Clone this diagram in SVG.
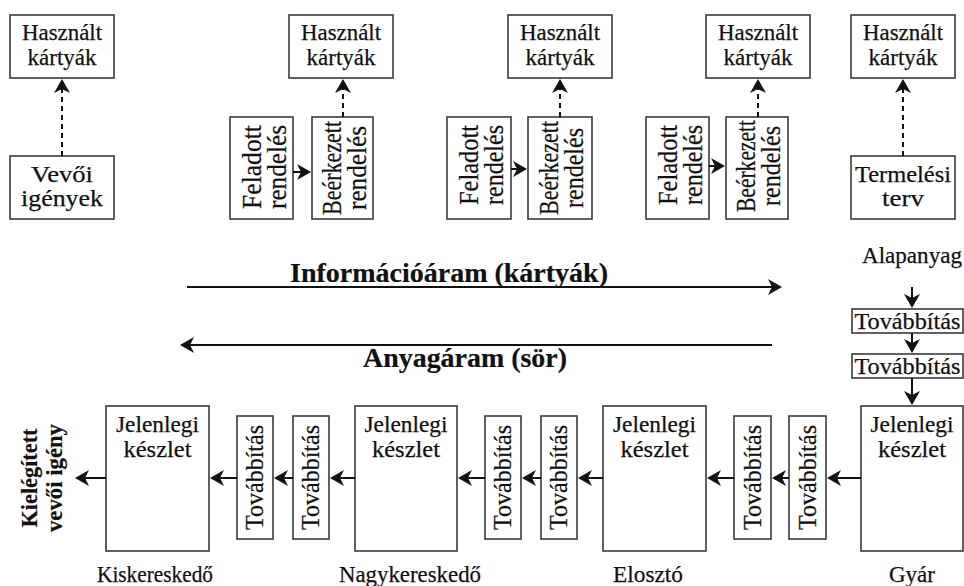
<svg xmlns="http://www.w3.org/2000/svg" width="964" height="586" viewBox="0 0 964 586">
<style>
.box{fill:#fff;stroke:#3a3a3a;stroke-width:1.6}
.t{font-family:"Liberation Serif","DejaVu Serif","Times New Roman",serif;font-size:23px;fill:#111;text-anchor:middle;stroke:#111;stroke-width:0.25}
.r{font-size:27px}
.rt{font-size:25px}
.b{font-weight:bold;stroke-width:0.2}
.c{stroke:#111;stroke-width:2;fill:none}
.d{stroke-dasharray:5 4}
</style>
<defs>
<marker id="ah" viewBox="0 0 14 16" refX="9" refY="8" markerWidth="14" markerHeight="16" markerUnits="userSpaceOnUse" orient="auto">
<path d="M0,0 L14,8 L0,16 L4,8 Z" fill="#111"/>
</marker>
</defs>
<rect width="964" height="586" fill="#fff"/>

<!-- top row -->
<g id="hasznalt1"><rect class="box" x="10" y="15" width="104" height="63"/><text class="t" x="62" y="40" textLength="80" lengthAdjust="spacingAndGlyphs">Használt</text><text class="t" x="62" y="65" textLength="69" lengthAdjust="spacingAndGlyphs">kártyák</text></g>
<g id="hasznalt2"><rect class="box" x="289" y="15" width="104" height="63"/><text class="t" x="341" y="40" textLength="80" lengthAdjust="spacingAndGlyphs">Használt</text><text class="t" x="341" y="65" textLength="69" lengthAdjust="spacingAndGlyphs">kártyák</text></g>
<g id="hasznalt3"><rect class="box" x="508" y="15" width="104" height="63"/><text class="t" x="560" y="40" textLength="80" lengthAdjust="spacingAndGlyphs">Használt</text><text class="t" x="560" y="65" textLength="69" lengthAdjust="spacingAndGlyphs">kártyák</text></g>
<g id="hasznalt4"><rect class="box" x="706" y="15" width="104" height="63"/><text class="t" x="758" y="40" textLength="80" lengthAdjust="spacingAndGlyphs">Használt</text><text class="t" x="758" y="65" textLength="69" lengthAdjust="spacingAndGlyphs">kártyák</text></g>
<g id="hasznalt5"><rect class="box" x="851" y="15" width="104" height="63"/><text class="t" x="903" y="40" textLength="80" lengthAdjust="spacingAndGlyphs">Használt</text><text class="t" x="903" y="65" textLength="69" lengthAdjust="spacingAndGlyphs">kártyák</text></g>

<g id="vevoi"><rect class="box" x="10" y="156" width="104" height="63"/><text class="t" x="62" y="182" textLength="62" lengthAdjust="spacingAndGlyphs">Vevői</text><text class="t" x="62" y="206" textLength="82" lengthAdjust="spacingAndGlyphs">igények</text></g>
<g id="termelesi"><rect class="box" x="851" y="156" width="104" height="63"/><text class="t" x="903" y="182" textLength="96" lengthAdjust="spacingAndGlyphs">Termelési</text><text class="t" x="903" y="206" textLength="42" lengthAdjust="spacingAndGlyphs">terv</text></g>

<g id="feladott1"><rect class="box" x="230" y="117" width="63" height="102"/><g transform="translate(261.5,167) rotate(-90)"><text class="t r" x="0" y="-1" textLength="84" lengthAdjust="spacingAndGlyphs">Feladott</text><text class="t r" x="0" y="24" textLength="84" lengthAdjust="spacingAndGlyphs">rendelés</text></g></g>
<g id="beerkezett1"><rect class="box" x="312" y="117" width="61" height="102"/><g transform="translate(342.5,168) rotate(-90)"><text class="t r" x="0" y="-2" textLength="94" lengthAdjust="spacingAndGlyphs">Beérkezett</text><text class="t r" x="0" y="23" textLength="84" lengthAdjust="spacingAndGlyphs">rendelés</text></g></g>
<g id="feladott2"><rect class="box" x="447" y="117" width="64" height="102"/><g transform="translate(479,165) rotate(-90)"><text class="t r" x="0" y="-1" textLength="80" lengthAdjust="spacingAndGlyphs">Feladott</text><text class="t r" x="0" y="24" textLength="80" lengthAdjust="spacingAndGlyphs">rendelés</text></g></g>
<g id="beerkezett2"><rect class="box" x="528" y="117" width="64" height="102"/><g transform="translate(560,168) rotate(-90)"><text class="t r" x="0" y="-2" textLength="94" lengthAdjust="spacingAndGlyphs">Beérkezett</text><text class="t r" x="0" y="23" textLength="80" lengthAdjust="spacingAndGlyphs">rendelés</text></g></g>
<g id="feladott3"><rect class="box" x="646" y="117" width="63" height="102"/><g transform="translate(677.5,165) rotate(-90)"><text class="t r" x="0" y="-1" textLength="80" lengthAdjust="spacingAndGlyphs">Feladott</text><text class="t r" x="0" y="24" textLength="80" lengthAdjust="spacingAndGlyphs">rendelés</text></g></g>
<g id="beerkezett3"><rect class="box" x="726" y="117" width="62" height="102"/><g transform="translate(757,166) rotate(-90)"><text class="t r" x="0" y="-2" textLength="92" lengthAdjust="spacingAndGlyphs">Beérkezett</text><text class="t r" x="0" y="23" textLength="80" lengthAdjust="spacingAndGlyphs">rendelés</text></g></g>

<!-- flow labels -->
<g id="info-label"><text class="t b" x="449" y="282" style="font-size:27px" textLength="318" lengthAdjust="spacingAndGlyphs">Információáram (kártyák)</text></g>
<g id="anyag-label"><text class="t b" x="465" y="367" style="font-size:27px" textLength="204" lengthAdjust="spacingAndGlyphs">Anyagáram (sör)</text></g>

<!-- right column -->
<g id="alapanyag"><text class="t" x="912" y="263" textLength="100" lengthAdjust="spacingAndGlyphs">Alapanyag</text></g>
<g id="tov-v1"><rect class="box" x="852" y="309" width="111" height="24"/><text class="t" x="907.5" y="329" textLength="106" lengthAdjust="spacingAndGlyphs">Továbbítás</text></g>
<g id="tov-v2"><rect class="box" x="852" y="354" width="111" height="24"/><text class="t" x="907.5" y="374" textLength="106" lengthAdjust="spacingAndGlyphs">Továbbítás</text></g>

<!-- bottom row -->
<g id="kisker"><rect class="box" x="106" y="406" width="103" height="145"/><text class="t" x="157.5" y="432" textLength="83" lengthAdjust="spacingAndGlyphs">Jelenlegi</text><text class="t" x="157.5" y="457" textLength="68" lengthAdjust="spacingAndGlyphs">készlet</text><text class="t" x="155" y="582" textLength="116" lengthAdjust="spacingAndGlyphs">Kiskereskedő</text></g>
<g id="nagyker"><rect class="box" x="355" y="406" width="102" height="145"/><text class="t" x="406" y="432" textLength="83" lengthAdjust="spacingAndGlyphs">Jelenlegi</text><text class="t" x="406" y="457" textLength="68" lengthAdjust="spacingAndGlyphs">készlet</text><text class="t" x="410" y="582" textLength="142" lengthAdjust="spacingAndGlyphs">Nagykereskedő</text></g>
<g id="eloszto"><rect class="box" x="603" y="406" width="103" height="145"/><text class="t" x="654.5" y="432" textLength="83" lengthAdjust="spacingAndGlyphs">Jelenlegi</text><text class="t" x="654.5" y="457" textLength="68" lengthAdjust="spacingAndGlyphs">készlet</text><text class="t" x="648" y="582" textLength="70" lengthAdjust="spacingAndGlyphs">Elosztó</text></g>
<g id="gyar"><rect class="box" x="861" y="406" width="102" height="145"/><text class="t" x="912" y="432" textLength="83" lengthAdjust="spacingAndGlyphs">Jelenlegi</text><text class="t" x="912" y="457" textLength="68" lengthAdjust="spacingAndGlyphs">készlet</text><text class="t" x="912" y="582" textLength="46" lengthAdjust="spacingAndGlyphs">Gyár</text></g>

<g id="tov1"><rect class="box" x="237" y="416" width="36" height="123"/><text class="t rt" transform="translate(255,477.5) rotate(-90)" x="0" y="8" textLength="105" lengthAdjust="spacingAndGlyphs">Továbbítás</text></g>
<g id="tov2"><rect class="box" x="293" y="416" width="36" height="123"/><text class="t rt" transform="translate(311,477.5) rotate(-90)" x="0" y="8" textLength="105" lengthAdjust="spacingAndGlyphs">Továbbítás</text></g>
<g id="tov3"><rect class="box" x="485" y="416" width="36" height="123"/><text class="t rt" transform="translate(503,477.5) rotate(-90)" x="0" y="8" textLength="105" lengthAdjust="spacingAndGlyphs">Továbbítás</text></g>
<g id="tov4"><rect class="box" x="541" y="416" width="36" height="123"/><text class="t rt" transform="translate(559,477.5) rotate(-90)" x="0" y="8" textLength="105" lengthAdjust="spacingAndGlyphs">Továbbítás</text></g>
<g id="tov5"><rect class="box" x="734" y="416" width="37" height="123"/><text class="t rt" transform="translate(752.5,477.5) rotate(-90)" x="0" y="8" textLength="105" lengthAdjust="spacingAndGlyphs">Továbbítás</text></g>
<g id="tov6"><rect class="box" x="789" y="416" width="37" height="123"/><text class="t rt" transform="translate(807.5,477.5) rotate(-90)" x="0" y="8" textLength="105" lengthAdjust="spacingAndGlyphs">Továbbítás</text></g>

<g id="kielegitett"><g transform="translate(45,478) rotate(-90)"><text class="t b" x="0" y="-8" textLength="99" lengthAdjust="spacingAndGlyphs">Kielégített</text><text class="t b" x="0" y="17" textLength="108" lengthAdjust="spacingAndGlyphs">vevői igény</text></g></g>

<!-- connectors -->
<g id="connectors">
<line class="c d" x1="62" y1="156" x2="62" y2="84" marker-end="url(#ah)"/>
<line class="c d" x1="343" y1="117" x2="343" y2="84" marker-end="url(#ah)"/>
<line class="c d" x1="560" y1="117" x2="560" y2="84" marker-end="url(#ah)"/>
<line class="c d" x1="758" y1="117" x2="758" y2="84" marker-end="url(#ah)"/>
<line class="c d" x1="903" y1="156" x2="903" y2="84" marker-end="url(#ah)"/>

<line class="c" x1="293" y1="172" x2="306" y2="172" marker-end="url(#ah)"/>
<line class="c" x1="511" y1="169" x2="522" y2="169" marker-end="url(#ah)"/>
<line class="c" x1="709" y1="166" x2="720" y2="166" marker-end="url(#ah)"/>

<line class="c" x1="187" y1="287" x2="777" y2="287" marker-end="url(#ah)"/>
<line class="c" x1="772" y1="345" x2="185" y2="345" marker-end="url(#ah)"/>

<line class="c" x1="912" y1="287" x2="912" y2="303" marker-end="url(#ah)"/>
<line class="c" x1="912" y1="333" x2="912" y2="348" marker-end="url(#ah)"/>
<line class="c" x1="912" y1="378" x2="912" y2="400" marker-end="url(#ah)"/>

<line class="c" x1="861" y1="478" x2="832" y2="478" marker-end="url(#ah)"/>
<line class="c" x1="789" y1="478" x2="777" y2="478" marker-end="url(#ah)"/>
<line class="c" x1="734" y1="478" x2="712" y2="478" marker-end="url(#ah)"/>
<line class="c" x1="603" y1="478" x2="583" y2="478" marker-end="url(#ah)"/>
<line class="c" x1="541" y1="478" x2="527" y2="478" marker-end="url(#ah)"/>
<line class="c" x1="485" y1="478" x2="463" y2="478" marker-end="url(#ah)"/>
<line class="c" x1="355" y1="478" x2="335" y2="478" marker-end="url(#ah)"/>
<line class="c" x1="293" y1="478" x2="279" y2="478" marker-end="url(#ah)"/>
<line class="c" x1="237" y1="478" x2="215" y2="478" marker-end="url(#ah)"/>
<line class="c" x1="106" y1="478" x2="80" y2="478" marker-end="url(#ah)"/>
</g>
</svg>
